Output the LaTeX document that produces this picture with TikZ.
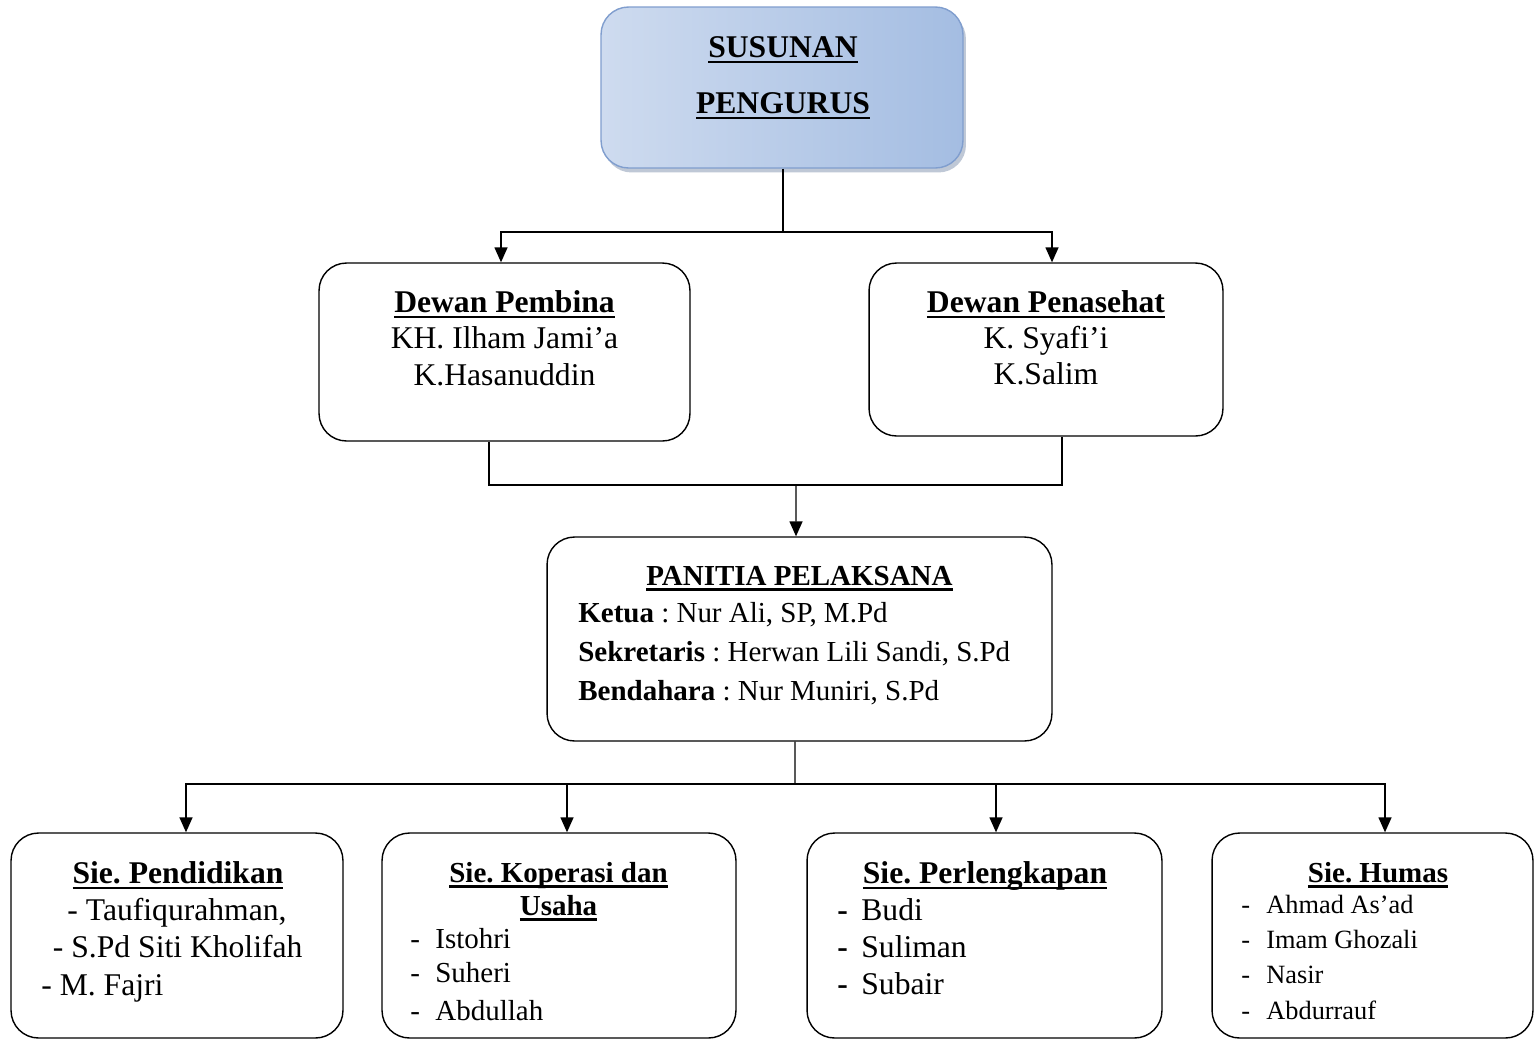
\documentclass[tikz,border=0pt]{standalone}
\usepackage{fontspec}
\setmainfont{Liberation Serif}
\usepackage{tikz}
\usetikzlibrary{arrows.meta,shadows}
\frenchspacing

\definecolor{skyA}{RGB}{206,219,239}
\definecolor{skyB}{RGB}{232,238,247}
\definecolor{skyC}{RGB}{164,189,226}
\definecolor{skyEdge}{RGB}{128,158,206}

% bold heading with a thick underline
\newcommand{\uhead}[1]{\setbox0\hbox{\bfseries #1}\rlap{\rule[-0.2em]{\wd0}{0.08em}}\box0}

\tikzset{
  box/.style={draw, line width=0.8pt, rounded corners=0.55cm, fill=white, inner sep=0pt},
  lbl/.style={inner sep=0pt, anchor=base, font=\fontsize{18}{21}\selectfont},
  lblM/.style={lbl, font=\fontsize{16.5}{19}\selectfont},
  lblS/.style={lbl, font=\fontsize{15}{18}\selectfont},
  link/.style={line width=0.8pt},
  arr/.style={line width=0.8pt, -{Triangle[length=0.3cm,width=0.26cm]}}
}

\begin{document}
\begin{tikzpicture}[x=0.02cm, y=-0.02cm]
\useasboundingbox (0,0) rectangle (1534,1039);
\fill[white] (0,0) rectangle (1534,1039);

% Title
\node[box, draw=skyEdge, left color=skyA, middle color=skyB, right color=skyC,
  drop shadow={shadow xshift=0.06cm, shadow yshift=-0.09cm, fill=skyEdge!60!gray, opacity=0.5},
  minimum width=7.24cm, minimum height=3.22cm] (top) at (782,87.5) {};
\node[lbl] (topA) at (783,57) {\uhead{SUSUNAN}};
\node[lbl] (topB) at (783,113) {\uhead{PENGURUS}};

% Dewan
\node[box, minimum width=7.42cm, minimum height=3.56cm] (pembina) at (504.5,352) {};
\node[lbl] (pembinaH) at (504.5,312) {\uhead{Dewan Pembina}};
\node[lbl] (pembina1) at (504.5,348) {KH. Ilham Jami’a};
\node[lbl] (pembina2) at (504.5,385) {K.Hasanuddin};

\node[box, minimum width=7.08cm, minimum height=3.46cm] (penasehat) at (1046,349.5) {};
\node[lbl] (penasehatH) at (1046,312) {\uhead{Dewan Penasehat}};
\node[lbl] (penasehat1) at (1046,348) {K. Syafi’i};
\node[lbl] (penasehat2) at (1046,384) {K.Salim};

% Panitia
\node[box, minimum width=10.1cm, minimum height=4.08cm] (panitia) at (799.5,639) {};
\node[lblM] (panitiaH) at (799.5,585) {\uhead{PANITIA PELAKSANA}};
\node[lblM, anchor=base west] (ketua) at (578,622) {\textbf{Ketua} : Nur Ali, SP, M.Pd};
\node[lblM, anchor=base west] (sekretaris) at (578,661) {\textbf{Sekretaris} : Herwan Lili Sandi, S.Pd};
\node[lblM, anchor=base west] (bendahara) at (578,700.5) {\textbf{Bendahara} : Nur Muniri, S.Pd};

% Seksi
\node[box, minimum width=6.64cm, minimum height=4.1cm] (pendidikan) at (177,935.5) {};
\node[lbl] (pendidikanH) at (178,883) {\uhead{Sie. Pendidikan}};
\node[lbl] (pendidikan1) at (177,920) {- Taufiqurahman,};
\node[lbl] (pendidikan2) at (177.7,957) {- S.Pd Siti Kholifah};
\node[lbl, anchor=base west] (pendidikan3) at (41,995) {- M. Fajri};

\node[box, minimum width=7.08cm, minimum height=4.1cm] (koperasi) at (559,935.5) {};
\node[lblM] (koperasiH) at (558.5,882) {\uhead{Sie. Koperasi dan}};
\node[lblM] (koperasiH2) at (558.5,915) {\uhead{Usaha}};
\foreach \n/\y/\t in {1/948/Istohri, 2/982/Suheri, 3/1020/Abdullah}{
  \node[lblM, anchor=base west] (koperasiD\n) at (410,\y) {-};
  \node[lblM, anchor=base west] (koperasi\n) at (435,\y) {\t};
}

\node[box, minimum width=7.1cm, minimum height=4.1cm] (perlengkapan) at (984.5,935.5) {};
\node[lbl] (perlengkapanH) at (985,883) {\uhead{Sie. Perlengkapan}};
\foreach \n/\y/\t in {1/920/Budi, 2/957/Suliman, 3/994/Subair}{
  \node[lbl, anchor=base west] (perlengkapanD\n) at (837,\y) {\textbf{-}};
  \node[lbl, anchor=base west] (perlengkapan\n) at (861,\y) {\t};
}

\node[box, minimum width=6.42cm, minimum height=4.1cm] (humas) at (1372.5,935.5) {};
\node[lblM] (humasH) at (1378,882) {\uhead{Sie. Humas}};
\foreach \n/\y/\t in {1/913/Ahmad As’ad, 2/948/Imam Ghozali, 3/983/Nasir, 4/1019/Abdurrauf}{
  \node[lblS, anchor=base west] (humasD\n) at (1241,\y) {-};
  \node[lblS, anchor=base west] (humas\n) at (1266,\y) {\t};
}

% Connectors
\coordinate (j1) at (783,232);
\coordinate (j2) at (796,485);
\coordinate (j3) at (795,784);
\draw[link] ([xshift=0.02cm]top.south) -- (j1);
\draw[arr] (j1) -| ([xshift=-0.07cm]pembina.north);
\draw[arr] (j1) -| ([xshift=0.12cm]penasehat.north);
\draw[link] ([xshift=-0.31cm]pembina.south) |- ([xshift=0.32cm]penasehat.south |- j2) -- ([xshift=0.32cm]penasehat.south);
\draw[arr] (j2) -- ([xshift=-0.07cm]panitia.north);
\draw[link] ([xshift=-0.09cm]panitia.south) -- (j3);
\foreach \b/\s in {pendidikan/0.18, koperasi/0.16, perlengkapan/0.23, humas/0.25}
  \draw[arr] (j3) -| ([xshift=\s cm]\b.north);

\end{tikzpicture}
\end{document}
